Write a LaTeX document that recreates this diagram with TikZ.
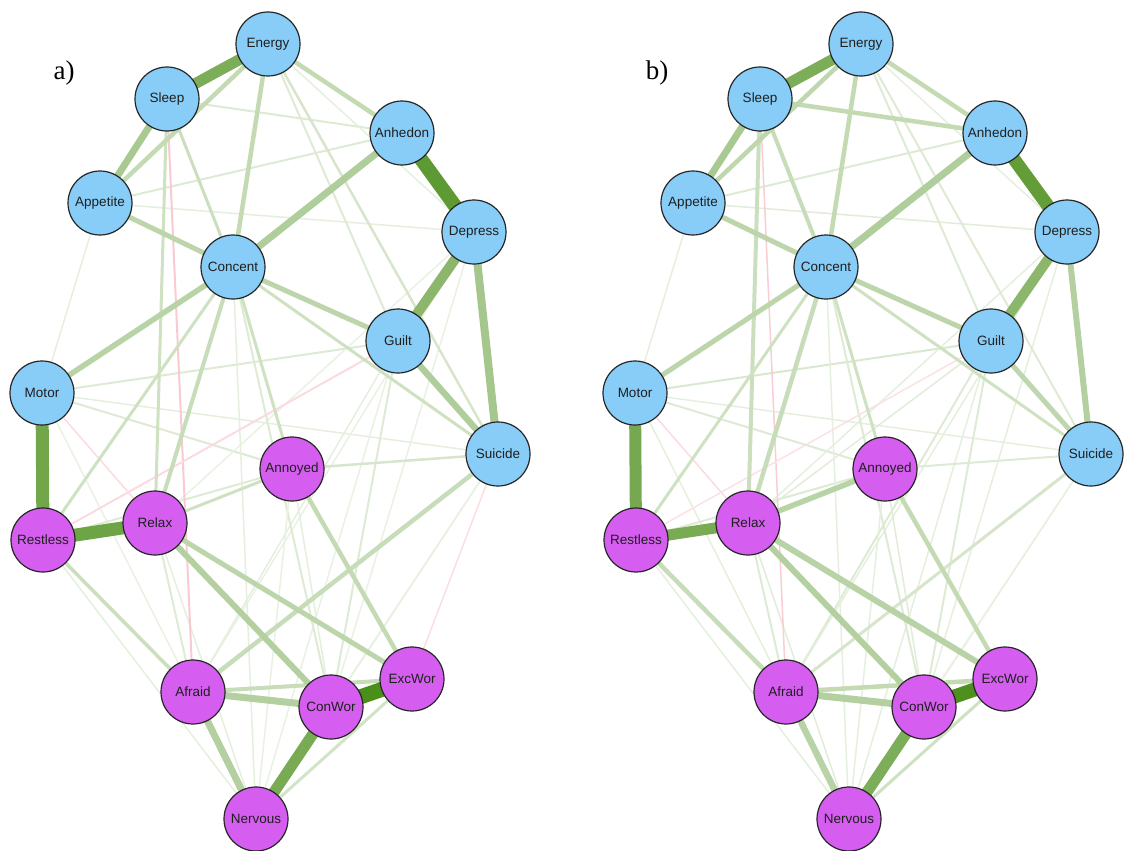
\documentclass[tikz,border=0pt]{standalone}
\usepackage{fontspec}
\setmainfont{Liberation Serif}
\newfontfamily\nodefont{Liberation Sans}
\usetikzlibrary{backgrounds}

\definecolor{eg}{RGB}{68,138,18}
\definecolor{er}{RGB}{235,90,110}
\definecolor{depblue}{RGB}{135,205,248}
\definecolor{anxpurple}{RGB}{213,94,240}

\tikzset{
  nd/.style={circle, draw=black!85, line width=1.2pt, minimum size=64pt,
    inner sep=0pt, text=black!88, font=\nodefont\fontsize{13.5}{13.5}\selectfont},
  dep/.style={nd, fill=depblue},
  anx/.style={nd, fill=anxpurple},
  ge/.style 2 args={line width=#1pt, draw=eg!#2!white},
  re/.style 2 args={line width=#1pt, draw=er!#2!white},
  panellabel/.style={font=\fontsize{27}{27}\selectfont, inner sep=0pt}
}

% the sixteen symptom nodes of one network, names prefixed by #1
\newcommand\symptomnodes[1]{%
  \node[dep] (#1Energy)   at (268,44)  {Energy};
  \node[dep] (#1Sleep)    at (167,99)  {Sleep};
  \node[dep] (#1Anhedon)  at (402,133) {Anhedon};
  \node[dep] (#1Appetite) at (100,203) {Appetite};
  \node[dep] (#1Depress)  at (474,232) {Depress};
  \node[dep] (#1Concent)  at (233,267) {Concent};
  \node[dep] (#1Guilt)    at (398,341) {Guilt};
  \node[dep] (#1Motor)    at (42,393)  {Motor};
  \node[dep] (#1Suicide)  at (498,454) {Suicide};
  \node[anx] (#1Annoyed)  at (292,469) {Annoyed};
  \node[anx] (#1Relax)    at (155,523) {Relax};
  \node[anx] (#1Restless) at (43,540)  {Restless};
  \node[anx] (#1Afraid)   at (193,692) {Afraid};
  \node[anx] (#1ConWor)   at (331,707) {ConWor};
  \node[anx] (#1ExcWor)   at (412,679) {ExcWor};
  \node[anx] (#1Nervous)  at (256,819) {Nervous};
}

\begin{document}
\begin{tikzpicture}[x=1pt, y=-1pt]
\useasboundingbox (0,0) rectangle (1124,851);

% ---------- network a ----------
\symptomnodes{a}
\node[panellabel] (labA) at (64,73) {a)};

\begin{pgfonlayer}{background}
  % weak partial correlations
  \foreach \u/\v/\w/\s in {
    Appetite/Motor/1.5/14, Appetite/Anhedon/2/18, Appetite/Depress/1.5/14,
    Sleep/Anhedon/2/18, Energy/Depress/1.5/14, Energy/Guilt/2/18,
    Motor/Guilt/2/18, Motor/Suicide/1.5/14, Motor/Annoyed/2/18,
    Motor/Afraid/1.5/12, Restless/Nervous/1.5/14, Restless/Annoyed/2/18,
    Guilt/Afraid/1.5/14, Guilt/ConWor/2/18, Guilt/Nervous/1.5/12,
    Depress/ConWor/1.5/12, Depress/Afraid/1.5/12, Depress/Relax/1.5/12,
    Concent/ConWor/2/18, Concent/Nervous/1.5/14, Annoyed/ConWor/1.5/14,
    Annoyed/Nervous/1.5/12, Suicide/ConWor/1.5/14, Suicide/Nervous/1.5/12,
    Relax/Afraid/2/18, Relax/Nervous/1.5/14, Energy/Suicide/2.5/22}
    \draw[ge={\w}{\s}] (a\u.center) -- (a\v.center);
  \foreach \u/\v/\w/\s in {
    Sleep/Afraid/2/32, Motor/Relax/1.5/22, Guilt/Restless/2/22,
    Suicide/ExcWor/1.5/20}
    \draw[re={\w}{\s}] (a\u.center) -- (a\v.center);
  % moderate and strong partial correlations
  \foreach \u/\v/\w/\s in {
    Sleep/Concent/3/28, Sleep/Relax/3/26, Concent/Annoyed/3/26,
    Concent/Restless/3/26, Concent/Relax/4/30, Concent/Suicide/3/26,
    Relax/Annoyed/3/26, Annoyed/Suicide/2.5/22, Restless/Afraid/3.5/28,
    Suicide/Afraid/4.5/30, ExcWor/Nervous/3/24, Afraid/ExcWor/4/30,
    Annoyed/ExcWor/4.5/32, Relax/ExcWor/5/36, Energy/Concent/4.5/32,
    Energy/Anhedon/4.5/32, Energy/Appetite/4.5/32, Appetite/Concent/5/36,
    Concent/Guilt/5/36, Concent/Motor/5.5/38, Guilt/Suicide/6.5/42,
    Relax/ConWor/6/40, Afraid/ConWor/7/40, Afraid/Nervous/7/40,
    Anhedon/Concent/7/42, Sleep/Appetite/7/46, Depress/Suicide/8/48,
    Depress/Guilt/10/62, Energy/Sleep/11/70, ConWor/Nervous/11/72,
    Motor/Restless/13/76, Restless/Relax/13/78, Anhedon/Depress/14/86,
    ConWor/ExcWor/15/96}
    \draw[ge={\w}{\s}] (a\u.center) -- (a\v.center);
\end{pgfonlayer}

% ---------- network b ----------
\begin{scope}[xshift=593pt]
\symptomnodes{b}
\node[panellabel] (labB) at (64,73) {b)};
\end{scope}

\begin{pgfonlayer}{background}
  \foreach \u/\v/\w/\s in {
    Appetite/Motor/1.5/14, Appetite/Anhedon/2/18, Appetite/Depress/1.5/16,
    Energy/Depress/1.5/14, Energy/Guilt/2/18, Motor/Guilt/2/20,
    Motor/Suicide/1.5/14, Motor/Annoyed/2/18, Motor/Afraid/1.5/14,
    Restless/Nervous/1.5/14, Restless/Annoyed/2/18, Guilt/Afraid/2/18,
    Guilt/ConWor/2/18, Guilt/Nervous/1.5/14, Guilt/Relax/1.5/16,
    Depress/ConWor/1.5/14, Depress/Afraid/1.5/14, Depress/Relax/1.5/14,
    Concent/ConWor/2/18, Concent/Nervous/1.5/14, Annoyed/ConWor/1.5/16,
    Annoyed/Nervous/1.5/14, Suicide/ConWor/1.5/14, Suicide/Nervous/1.5/12,
    Relax/Afraid/2/18, Relax/Nervous/1.5/16, Energy/Suicide/2/18,
    Annoyed/Suicide/2/18}
    \draw[ge={\w}{\s}] (b\u.center) -- (b\v.center);
  \foreach \u/\v/\w/\s in {
    Sleep/Afraid/1.5/30, Motor/Relax/1.5/22, Guilt/Restless/1.5/18}
    \draw[re={\w}{\s}] (b\u.center) -- (b\v.center);
  \foreach \u/\v/\w/\s in {
    Sleep/Anhedon/4.5/32, Sleep/Concent/4/30, Sleep/Relax/4/28,
    Concent/Annoyed/3/26, Concent/Restless/3/26, Concent/Relax/4.5/30,
    Concent/Suicide/3/26, Relax/Annoyed/5.5/38, Restless/Afraid/4.5/30,
    Suicide/Afraid/3/22, ExcWor/Nervous/3/26, Afraid/ExcWor/4.5/32,
    Annoyed/ExcWor/4.5/32, Relax/ExcWor/6/38, Energy/Concent/4.5/32,
    Energy/Anhedon/4.5/32, Energy/Appetite/4.5/34, Appetite/Concent/5/36,
    Concent/Guilt/5/36, Concent/Motor/5/36, Guilt/Suicide/5/34,
    Relax/ConWor/6/40, Afraid/ConWor/7/40, Afraid/Nervous/6.5/38,
    Anhedon/Concent/7/42, Sleep/Appetite/7/46, Depress/Suicide/6/40,
    Depress/Guilt/10/62, Energy/Sleep/11/70, ConWor/Nervous/11/70,
    Motor/Restless/12/74, Restless/Relax/11/72, Anhedon/Depress/13/84,
    ConWor/ExcWor/14/95}
    \draw[ge={\w}{\s}] (b\u.center) -- (b\v.center);
\end{pgfonlayer}
\end{tikzpicture}
\end{document}
